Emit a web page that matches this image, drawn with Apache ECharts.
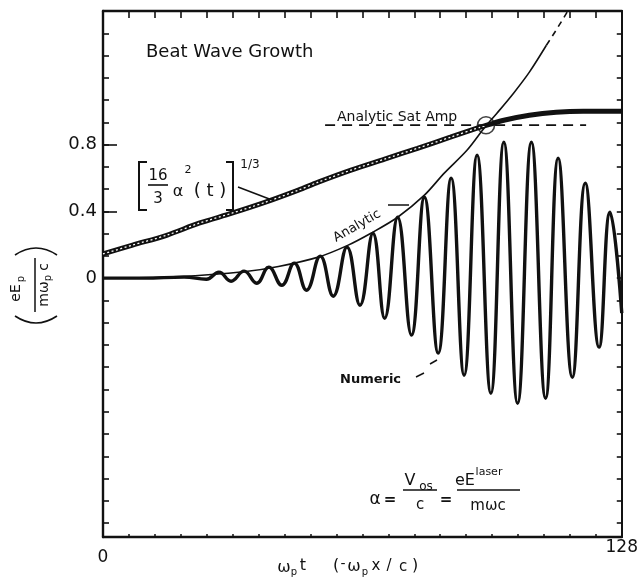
<!DOCTYPE html>
<html><head><meta charset="utf-8">
<script src="https://cdn.jsdelivr.net/npm/echarts@6/dist/echarts.min.js"></script>
<style>html,body{margin:0;padding:0;background:#fff}#c{width:641px;height:584px}</style>
</head><body><div id="c"></div>
<script>
// ---- data ----
const xLabelValues = [0, 128];
const yLabelValues = [0, 0.4, 0.8];

const numericT = [0,10,20,25.5,28.6,31.6,34.8,37.9,40.9,44.1,47.2,50.2,53.6,56.8,60.2,63.4,66.6,69.5,72.7,76.1,79.3,82.7,85.9,89.1,92.3,95.7,98.9,102.3,105.7,109.2,112.3,115.8,119.0,122.4,125.1,128];
const numericE = [0,0,0.006,-0.006,0.036,-0.018,0.042,-0.03,0.066,-0.042,0.09,-0.072,0.132,-0.108,0.186,-0.162,0.269,-0.24,0.365,-0.341,0.485,-0.449,0.599,-0.581,0.737,-0.689,0.814,-0.749,0.814,-0.719,0.719,-0.593,0.569,-0.413,0.395,-0.21];

const analyticT = [0,18.8,35.2,43.3,53.1,60.5,66.1,72.7,79.3,84.2,89.8,94.2,97.2,101.3,105.2,109.4];
const analyticE = [0,0.01,0.04,0.07,0.126,0.198,0.269,0.365,0.497,0.629,0.766,0.904,0.988,1.108,1.234,1.395];
const analyticDashT = [109.4,111.8,115.2];
const analyticDashE = [1.395,1.485,1.62];

const satT = [0,7.3,15.7,23.7,31.8,40.1,48.2,53.1,61.2,69.5,77.6,85.7,92.3,94.7,98.9,105.2,111.8,118.5,128];
const satE = [0.145,0.198,0.257,0.329,0.389,0.455,0.527,0.575,0.647,0.713,0.778,0.844,0.898,0.916,0.946,0.976,0.994,1.0,1.0];
const satHatchCount = 14;

const satAmpT = [54.8, 119.2];
const satAmpE = [0.916, 0.916];

const crossT = [94.5];
const crossE = [0.916];

// ---- chart ----
const INK = '#111';
const FONT = 'DejaVu Sans';
const pairs = (xs, ys) => xs.map((x, i) => [x, ys[i]]);
const yTicks = []; for (let k = -11; k <= 11; k++) yTicks.push(+(k * 0.4 / 3).toFixed(6));
const xTicks = []; for (let k = 0; k <= 20; k++) xTicks.push(+(k * 6.4).toFixed(6));

function T(text, x, y, size, o) {
  o = o || {};
  return {type:'text', x:x, y:y, rotation:o.rot || 0, z:100,
    style:{text:text, fontSize:size, fontFamily:FONT, fontWeight:o.bold?'bold':'normal', fill:INK,
      textAlign:o.align || 'center', textVerticalAlign:'middle'}};
}
function L(x1, y1, x2, y2, w) {
  return {type:'line', z:100, shape:{x1:x1,y1:y1,x2:x2,y2:y2}, style:{stroke:INK, lineWidth:w || 1.5}};
}
function P(pts, w) {
  return {type:'polyline', z:100, shape:{points:pts}, style:{stroke:INK, lineWidth:w || 1.8, fill:null}};
}
function Q(x1, y1, cx, cy, x2, y2, w) {
  return {type:'bezierCurve', z:100, shape:{x1:x1, y1:y1, cpx1:cx, cpy1:cy, x2:x2, y2:y2}, style:{stroke:INK, lineWidth:w || 1.6, fill:null}};
}

const axisLineStyle = {color:INK, width:2.4};
const option = {
  animation:false,
  backgroundColor:'#fff',
  grid:{left:103, right:15, top:11, bottom:47},
  xAxis:[
    {type:'value', min:0, max:128, position:'bottom',
     axisLine:{onZero:false, lineStyle:axisLineStyle},
     axisTick:{inside:true, length:3, customValues:xTicks, lineStyle:{color:INK, width:1.5}},
     axisLabel:{customValues:xLabelValues, margin:2, color:INK, fontFamily:FONT, fontSize:17,
       formatter:v => v === 0 ? '{a|0}' : '{b|' + v + '}',
       rich:{a:{padding:[10,0,0,0], fontSize:17, fontFamily:FONT, color:INK}, b:{fontSize:17, fontFamily:FONT, color:INK}}},
     splitLine:{show:false}},
    {type:'value', min:0, max:128, position:'top',
     axisLine:{onZero:false, lineStyle:axisLineStyle},
     axisTick:{inside:true, length:7, customValues:xTicks, lineStyle:{color:INK, width:1.6}},
     axisLabel:{show:false}, splitLine:{show:false}}
  ],
  yAxis:[
    {type:'value', min:-1.55, max:1.6, position:'left',
     axisLine:{onZero:false, lineStyle:axisLineStyle},
     axisTick:{inside:true, length:6, customValues:yTicks, lineStyle:{color:INK, width:1.6}},
     axisLabel:{customValues:yLabelValues, margin:6, color:INK, fontFamily:FONT, fontSize:18,
       formatter:v => v === 0 ? '0' : v.toFixed(1)},
     splitLine:{show:false}},
    {type:'value', min:-1.55, max:1.6, position:'right',
     axisLine:{onZero:false, lineStyle:{color:INK, width:2}},
     axisTick:{inside:true, length:5, customValues:yTicks, lineStyle:{color:INK, width:1.6}},
     axisLabel:{show:false}, splitLine:{show:false}},
    {type:'value', min:-1.55, max:1.6, position:'left',
     axisLine:{show:false},
     axisTick:{inside:true, length:14, customValues:[0.4, 0.8], lineStyle:{color:INK, width:1.6}},
     axisLabel:{show:false}, splitLine:{show:false}}
  ],
  series:[
    {type:'line', name:'Numeric', data:pairs(numericT, numericE), smooth:0.45, symbol:'none',
     lineStyle:{color:INK, width:3.4}},
    {type:'line', name:'Analytic', data:pairs(analyticT, analyticE), smooth:0.3, symbol:'none',
     lineStyle:{color:INK, width:1.6}},
    {type:'line', name:'Analytic (cont.)', data:pairs(analyticDashT, analyticDashE), symbol:'none',
     lineStyle:{color:INK, width:1.6, type:[6,5]}},
    {type:'line', name:'Saturation', data:pairs(satT, satE), smooth:0.3, symbol:'none',
     lineStyle:{color:INK, width:5}},
    {type:'line', name:'Saturation hatch', data:pairs(satT.slice(0, satHatchCount), satE.slice(0, satHatchCount)), smooth:0.3, symbol:'none',
     lineStyle:{color:'#fff', width:1.3, type:[2,2.5]}, z:3},
    {type:'line', name:'Analytic Sat Amp', data:pairs(satAmpT, satAmpE), symbol:'none',
     lineStyle:{color:INK, width:1.8, type:[10,7]}},
    {type:'scatter', name:'crossing', data:pairs(crossT, crossE), symbol:'circle', symbolSize:17,
     itemStyle:{color:'rgba(0,0,0,0)', borderColor:INK, borderWidth:1.6}, z:5}
  ],
  graphic:[
    T('Beat Wave Growth', 146, 52, 18, {align:'left'}),
    T('Analytic Sat Amp', 337, 117, 14, {align:'left'}),
    T('Analytic', 357, 226, 13, {rot:Math.PI/6}),
    L(388, 205, 409, 205, 1.5),
    T('Numeric', 340, 380, 13, {align:'left', bold:true}),
    L(416, 377, 424, 373, 1.5),
    L(430, 364, 437, 360, 1.5),
    // [16/3 a^2(t)]^(1/3)
    P([[147,162],[139,162],[139,210],[147,210]], 2),
    T('16', 158, 176, 15),
    L(148, 185, 168, 185, 1.6),
    T('3', 158, 199, 15),
    T('α', 178, 192, 16),
    T('2', 188, 170, 11),
    T('( t )', 210, 191, 18),
    P([[226,162],[233,162],[233,210],[226,210]], 2),
    T('1/3', 250, 165, 12),
    L(238, 187, 272, 200, 1.5),
    // a = Vos/c = eE^laser/mωc
    T('α', 375, 500, 17),
    T('=', 390, 500, 15, {bold:true}),
    T('V', 410, 481, 16),
    T('os', 426, 487, 12),
    L(403, 490, 437, 490, 1.6),
    T('c', 420, 505, 15),
    T('=', 446, 500, 15, {bold:true}),
    T('eE', 465, 481, 16),
    T('laser', 489, 472, 11),
    L(457, 490, 520, 490, 1.6),
    T('mωc', 488, 506, 15),
    // x axis title
    T('ω', 284, 568, 16),
    T('p', 294, 572, 10),
    T('t', 303, 566, 16),
    T('(', 336, 566, 16),
    T('-', 343, 564, 14),
    T('ω', 354, 567, 16),
    T('p', 365, 572, 10),
    T('x', 376, 566, 15),
    T('/', 389, 566, 15),
    T('c', 403, 567, 15),
    T(')', 415, 566, 16),
    // y axis title (rotated text) with bracket arcs above/below
    {type:'group', x:35, y:285, rotation:Math.PI/2, z:100, children:[
      T('eE', -8, -19, 14),
      T('p', 6, -14, 10),
      L(-27, 0, 27, 0, 1.5),
      T('mω', -9, 9, 14),
      T('p', 7, 13, 10),
      T('c', 18, 9, 14)
    ]},
    Q(15, 255, 36, 241, 57, 255, 1.6),
    Q(15, 316, 36, 330, 57, 316, 1.6)
  ]
};
const chart = echarts.init(document.getElementById('c'), null, {renderer:'canvas'});
chart.setOption(option);
</script>
</body></html>
